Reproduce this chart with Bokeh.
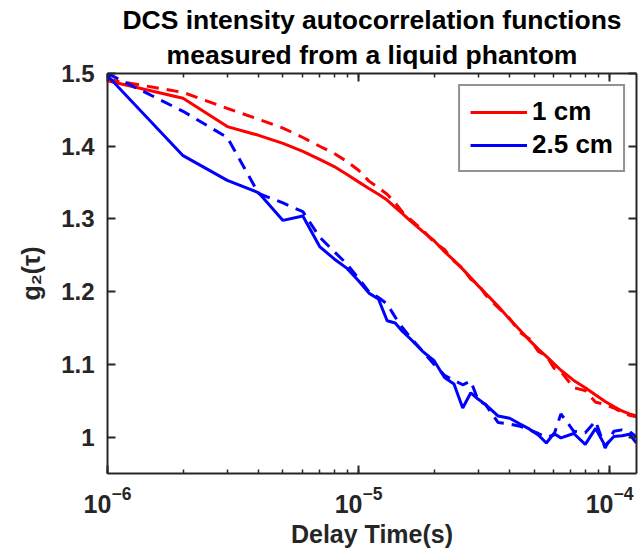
from bokeh.plotting import figure
from bokeh.models import (LinearAxis, Legend, LegendItem, Range1d, Title,
                          FixedTicker, LogTicker, CustomJSTickFormatter)
from bokeh.embed import file_html
from bokeh.resources import INLINE

# delay times in microseconds
tau_us = [1, 2, 3, 4, 5, 6, 7, 8, 9, 10, 11, 12, 13, 14, 15, 16,
          18, 20, 22, 24, 26, 28, 30, 32,
          36, 40, 44, 48, 52, 56, 60, 64,
          72, 80, 88, 96, 104, 112, 120, 128]
tau = [t * 1e-6 for t in tau_us]

# 1 cm, solid curve
g2_1cm_solid = [1.490, 1.466, 1.427, 1.415, 1.404, 1.393, 1.382, 1.372, 1.361, 1.351,
                1.342, 1.334, 1.326, 1.316, 1.307, 1.298,
                1.283, 1.270, 1.255, 1.243, 1.231, 1.219, 1.208, 1.198,
                1.180, 1.162, 1.147, 1.133, 1.121, 1.111, 1.101, 1.092,
                1.078, 1.068, 1.058, 1.049, 1.042, 1.036, 1.032, 1.029]
# 1 cm, dashed curve
g2_1cm_dashed = [1.492, 1.474, 1.452, 1.437, 1.425, 1.412, 1.400, 1.390, 1.379, 1.367,
                 1.352, 1.343, 1.334, 1.322, 1.309, 1.300,
                 1.285, 1.268, 1.258, 1.242, 1.232, 1.217, 1.210, 1.196,
                 1.178, 1.163, 1.144, 1.135, 1.118, 1.112, 1.095, 1.090,
                 1.068, 1.064, 1.048, 1.045, 1.040, 1.034, 1.030, 1.028]
# 2.5 cm, solid curve
g2_25cm_solid = [1.497, 1.387, 1.353, 1.336, 1.298, 1.304, 1.262, 1.245, 1.232, 1.215,
                 1.198, 1.190, 1.160, 1.157, 1.145, 1.136,
                 1.118, 1.105, 1.082, 1.073, 1.040, 1.061, 1.052, 1.045,
                 1.029, 1.026, 1.018, 1.011, 1.003, 0.992, 1.005, 0.999,
                 1.005, 0.990, 1.012, 0.988, 1.001, 1.002, 1.004, 0.992]
# 2.5 cm, dashed curve
g2_25cm_dashed = [1.500, 1.448, 1.412, 1.335, 1.322, 1.310, 1.275, 1.255, 1.238, 1.218,
                  1.200, 1.192, 1.183, 1.165, 1.150, 1.138,
                  1.118, 1.100, 1.085, 1.078, 1.072, 1.077, 1.050, 1.045,
                  1.020, 1.018, 1.015, 1.010, 1.005, 1.000, 1.003, 1.032,
                  1.008, 1.006, 1.022, 0.985, 1.008, 1.010, 1.008, 1.000]

y_ticks = [1.0, 1.1, 1.2, 1.3, 1.4, 1.5]
y_tick_labels = ["1", "1.1", "1.2", "1.3", "1.4", "1.5"]
legend_labels = ["1 cm", "2.5 cm"]
title_lines = ["DCS intensity autocorrelation functions",
               "measured from a liquid phantom"]
x_label = "Delay Time(s)"
y_label = "g\u2082(\u03c4)"

FONT = "Liberation Sans"
AX = "#262626"

p = figure(width=638, height=555, x_axis_type="log",
           x_range=Range1d(1e-6, 1.28e-4), y_range=Range1d(0.95, 1.5),
           output_backend="svg", toolbar_location=None,
           min_border_left=107, min_border_right=2, min_border_top=73,
           min_border_bottom=82)

p.title.visible = False

p.xgrid.visible = False
p.ygrid.visible = False
p.outline_line_color = None
p.background_fill_color = "white"
p.border_fill_color = "white"

xt = LogTicker(num_minor_ticks=10)
yt = FixedTicker(ticks=y_ticks)
overrides = {v: s for v, s in zip(y_ticks, y_tick_labels)}


def style(ax, labels=True):
    ax.axis_line_color = AX
    ax.axis_line_width = 2
    ax.major_tick_line_color = AX
    ax.major_tick_line_width = 2
    ax.major_tick_in = 8
    ax.major_tick_out = 0
    ax.minor_tick_line_color = AX
    ax.minor_tick_line_width = 1.5
    ax.minor_tick_in = 4
    ax.minor_tick_out = 0
    ax.major_label_text_font = FONT
    ax.major_label_text_font_style = "bold"
    ax.major_label_text_color = AX
    ax.axis_label_text_font = FONT
    ax.axis_label_text_font_style = "bold"
    ax.axis_label_text_color = AX
    ax.axis_label_text_font_size = "25px"
    if labels:
        ax.major_label_text_font_size = "24px"
    else:
        ax.formatter = CustomJSTickFormatter(code="return ''")
        ax.major_label_text_font_size = "1px"
        ax.major_label_standoff = 0


xa = p.xaxis[0]
xa.ticker = xt
style(xa)
xa.major_label_text_font_size = "25px"
xa.axis_label = x_label
xa.major_label_standoff = 12
xa.axis_label_standoff = 4

ya = p.yaxis[0]
ya.ticker = yt
style(ya)
ya.minor_tick_line_color = None
ya.major_label_overrides = overrides
ya.axis_label = y_label
ya.major_label_standoff = 13
ya.axis_label_standoff = 13

top = LinearAxis(ticker=xt)
style(top, labels=False)
p.add_layout(top, "above")

right = LinearAxis(ticker=yt)
style(right, labels=False)
right.minor_tick_line_color = None
p.add_layout(right, "right")

for i, line in enumerate(reversed(title_lines)):
    t = Title(text=line, align="center", text_font=FONT, text_font_style="bold",
              text_font_size="26.5px", text_color="black",
              standoff=7 if i == 0 else 0,
              text_line_height=1.0 if i == 0 else 0.85)
    p.add_layout(t, "above")

r1 = p.line(tau, g2_1cm_solid, line_color="#ff0000", line_width=3)
r2 = p.line(tau, g2_1cm_dashed, line_color="#ff0000", line_width=3, line_dash="12 8")
r3 = p.line(tau, g2_25cm_solid, line_color="#0000ff", line_width=3)
r4 = p.line(tau, g2_25cm_dashed, line_color="#0000ff", line_width=3, line_dash="12 8")

legend = Legend(items=[LegendItem(label=legend_labels[0], renderers=[r1]),
                       LegendItem(label=legend_labels[1], renderers=[r3])],
                location="top_right", margin=11, padding=10, spacing=2,
                glyph_width=57, glyph_height=28, label_standoff=5,
                border_line_color="#262626", border_line_width=2,
                label_text_font=FONT, label_text_font_style="bold",
                label_text_font_size="26px", label_text_color="black",
                background_fill_color="white", background_fill_alpha=1)
p.add_layout(legend)

open("out.html", "w").write(file_html(p, INLINE))
